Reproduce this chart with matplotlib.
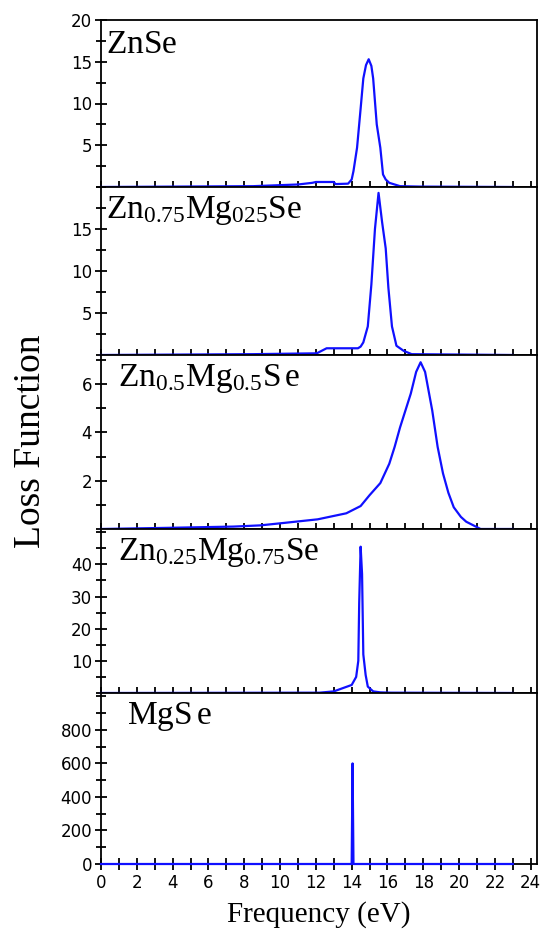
import matplotlib
matplotlib.use("Agg")
import matplotlib.pyplot as plt
from matplotlib.ticker import MultipleLocator

plt.rcParams['mathtext.fontset'] = 'custom'
plt.rcParams['mathtext.rm'] = 'Liberation Serif'
plt.rcParams['mathtext.it'] = 'Liberation Serif'

# ---- data ----
znse_x = [0, 8.5, 11.0, 11.8, 12.0, 13.0, 13.1, 13.8, 14.0, 14.1, 14.3, 14.5, 14.65, 14.8, 14.95, 15.1, 15.2, 15.4, 15.6, 15.75, 15.9, 16.1, 16.7, 17.8, 23.0]
znse_y = [0, 0.1, 0.3, 0.5, 0.6, 0.6, 0.35, 0.4, 0.9, 1.9, 4.7, 9.4, 13.0, 14.6, 15.3, 14.5, 13.0, 7.5, 4.7, 1.5, 0.9, 0.5, 0.1, 0.05, 0]

zn75_x = [0, 8.5, 12.05, 12.6, 14.35, 14.5, 14.65, 14.9, 15.1, 15.3, 15.5, 15.7, 15.9, 16.05, 16.25, 16.5, 16.9, 17.35, 23.0]
zn75_y = [0, 0.1, 0.2, 0.8, 0.8, 1.0, 1.5, 3.4, 8.4, 15.0, 19.3, 15.8, 12.7, 8.0, 3.4, 1.1, 0.5, 0.1, 0]

zn50_x = [0, 3.9, 7.4, 8.9, 10.2, 12.1, 13.7, 14.5, 15.0, 15.6, 16.1, 16.4, 16.7, 17.0, 17.3, 17.6, 17.85, 18.1, 18.5, 18.8, 19.1, 19.4, 19.7, 20.1, 20.4, 21.2, 23.0]
zn50_y = [0, 0.05, 0.1, 0.15, 0.25, 0.4, 0.65, 0.95, 1.4, 1.9, 2.7, 3.4, 4.2, 4.9, 5.6, 6.5, 6.9, 6.5, 4.9, 3.4, 2.3, 1.5, 0.9, 0.5, 0.3, 0.0, 0]

zn25_x = [0, 12.2, 13.0, 13.5, 14.0, 14.25, 14.37, 14.42, 14.5, 14.58, 14.65, 14.78, 14.9, 15.2, 15.6, 16.2, 23.0]
zn25_y = [0, 0.1, 0.5, 1.5, 2.5, 5.0, 10.0, 28.0, 45.5, 37.0, 12.0, 5.6, 2.0, 0.5, 0.2, 0.1, 0]

mgse_x = [0, 14.0, 14.05, 14.1, 23.0]
mgse_y = [0, 0, 600, 0, 0]

labels = [r'$\mathrm{ZnSe}$',
          r'$\mathrm{Zn_{0.75}Mg_{025}Se}$',
          r'$\mathrm{Zn_{0.5}Mg_{0.5}S\,e}$',
          r'$\mathrm{Zn_{0.25}Mg_{0.75}Se}$',
          r'$\mathrm{MgS\,e}$']
ylims = [20, 20, 7.2, 51, 1020]
ymajor = [5, 5, 2, 10, 200]
ytick_labels = [[5, 10, 15, 20], [5, 10, 15], [2, 4, 6], [10, 20, 30, 40], [0, 200, 400, 600, 800]]
xticks_labels = list(range(0, 25, 2))
label_x = [0.012, 0.012, 0.04, 0.04, 0.06]

series = [(znse_x, znse_y), (zn75_x, zn75_y), (zn50_x, zn50_y), (zn25_x, zn25_y), (mgse_x, mgse_y)]

# ---- layout ----
W, H = 544, 940
fig = plt.figure(figsize=(W / 100, H / 100), dpi=100)
edges = [20, 187, 355, 529, 693, 864]
left = 101 / W
width = (537 - 101) / W

blue = '#1010ff'
for i in range(5):
    top = 1 - edges[i] / H
    bot = 1 - edges[i + 1] / H
    ax = fig.add_axes([left, bot, width, top - bot])
    x, y = series[i]
    ax.plot(x, y, color=blue, lw=1.6, zorder=3, clip_on=False)
    ax.set_xlim(0, 24.35)
    ax.set_ylim(0, ylims[i])
    for s in ax.spines.values():
        s.set_linewidth(1.3)
        s.set_color('black')
    ax.set_yticks(ytick_labels[i])
    ax.set_yticklabels([str(v) for v in ytick_labels[i]], fontsize=12, family='DejaVu Sans')
    ax.yaxis.set_minor_locator(MultipleLocator(ymajor[i] / 2))
    ax.tick_params(axis='y', which='major', direction='inout', length=9, width=1.3, pad=2)
    ax.tick_params(axis='y', which='minor', direction='inout', length=7, width=1.3)
    ax.xaxis.set_major_locator(MultipleLocator(2))
    ax.xaxis.set_minor_locator(MultipleLocator(1))
    if i < 4:
        ax.tick_params(axis='x', which='both', direction='in', length=4, width=1.3, labelbottom=False)
    else:
        ax.tick_params(axis='x', which='both', direction='inout', length=8, width=1.3)
        ax.set_xticks(xticks_labels)
        ax.set_xticklabels([str(v) for v in xticks_labels], fontsize=12, family='DejaVu Sans')
        ax.set_xlabel('Frequency (eV)', fontsize=21, family='Liberation Serif', labelpad=6)
    ax.text(label_x[i], 0.96, labels[i], transform=ax.transAxes, fontsize=24,
            va='top', ha='left', color='black')

fig.text(0.057, 0.531, 'Loss Function', rotation=90, fontsize=27, family='Liberation Serif',
         va='center', ha='center')

fig.savefig('out.png', dpi=100)
